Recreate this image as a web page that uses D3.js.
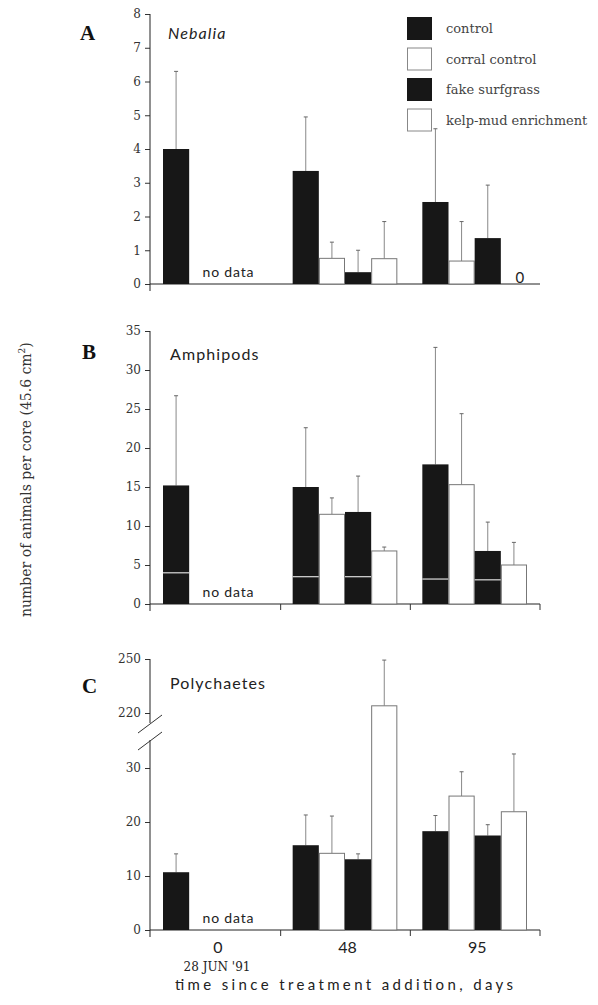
<!DOCTYPE html>
<html>
<head>
<meta charset="utf-8">
<script src="https://cdn.jsdelivr.net/npm/d3@7"></script>
<style>
  body { margin: 0; background: #fff; }
  svg { display: block; }
</style>
</head>
<body>
<svg id="chart" width="598" height="1005"></svg>
<script>
// Data
var days = ["0", "48", "95"];
var treatments = ["control", "corral control", "fake surfgrass", "kelp-mud enrichment"];

// Nebalia: rows = days, cols = treatments (null = no data)
var nebaliaMean = [[4.0, null, null, null], [3.35, 0.76, 0.35, 0.75], [2.43, 0.68, 1.36, 0]];
var nebaliaErr  = [[6.3, null, null, null], [4.95, 1.24, 1.0, 1.85], [4.6, 1.85, 2.93, null]];

// Amphipods
var amphMean = [[15.2, null, null, null], [15.0, 11.5, 11.8, 6.8], [17.9, 15.3, 6.8, 5.0]];
var amphErr  = [[26.7, null, null, null], [22.6, 13.6, 16.4, 7.3], [32.9, 24.4, 10.5, 7.9]];
var amphInner = [[4.0, null, null, null], [3.5, null, 3.5, null], [3.2, null, 3.1, null]];

// Polychaetes
var polyMean = [[10.7, null, null, null], [15.7, 14.2, 13.1, 224], [18.3, 24.8, 17.5, 21.9]];
var polyErr  = [[14.1, null, null, null], [21.3, 21.1, 14.1, 249.4], [21.2, 29.3, 19.5, 32.6]];

var nebaliaTicks = [0, 1, 2, 3, 4, 5, 6, 7, 8];
var amphTicks = [0, 5, 10, 15, 20, 25, 30, 35];
var polyTicks = [0, 10, 20, 30, 220, 250];

var svg = d3.select("#chart");

var x0 = d3.scaleBand().domain(days).range([151, 540]);
var x1 = d3.scaleBand().domain(treatments).range([12, x0.bandwidth() - 13]);

function isDark(t) { return t == "control" || t == "fake surfgrass"; }

// Draw one panel
function drawPanel(y, ticks, means, errs, inner, opts) {
  var g = svg.append("g");
  var zeroY = y(0);

  // y axis
  var axis = d3.axisLeft(y).tickValues(ticks).tickSize(5).tickPadding(4);
  var ag = g.append("g").attr("transform", "translate(150,0)").call(axis);
  ag.select(".domain").remove();
  ag.selectAll(".tick line").attr("stroke", "#333");
  ag.selectAll(".tick text")
    .attr("font-family", "DejaVu Serif").attr("font-size", 12).attr("fill", "#333");

  if (opts.brk) {
    g.append("line").attr("x1", 150).attr("x2", 150)
      .attr("y1", y.range()[3]).attr("y2", opts.brk[0]).attr("stroke", "#222");
    g.append("line").attr("x1", 150).attr("x2", 150)
      .attr("y1", opts.brk[1]).attr("y2", zeroY + 7).attr("stroke", "#222");
    [opts.brk[0] + 2, opts.brk[1] + 2].forEach(function(c) {
      g.append("line").attr("x1", 138).attr("y1", c + 8).attr("x2", 162).attr("y2", c - 10)
        .attr("stroke", "#333").attr("stroke-width", 1);
    });
  } else {
    g.append("line").attr("x1", 150).attr("x2", 150)
      .attr("y1", y.range()[1]).attr("y2", zeroY + 7).attr("stroke", "#222");
  }

  // x baseline
  g.append("line").attr("x1", 150).attr("x2", 540)
    .attr("y1", zeroY).attr("y2", zeroY).attr("stroke", "#222");
  if (opts.xticks) {
    [x0("48"), x0("95"), 540].forEach(function(xx) {
      g.append("line").attr("x1", xx).attr("x2", xx)
        .attr("y1", zeroY).attr("y2", zeroY + 6).attr("stroke", "#333");
    });
  }

  // bars
  days.forEach(function(day, i) {
    treatments.forEach(function(t, j) {
      var v = means[i][j];
      if (v == null) return;
      var bx = x0(day) + x1(t), bw = x1.bandwidth(), cx = bx + bw / 2;
      if (v == 0) {
        g.append("text").attr("x", cx + 6).attr("y", zeroY - 1)
          .attr("text-anchor", "middle").attr("font-family", "Lato").attr("font-size", 15)
          .attr("fill", "#222").text("0");
        return;
      }
      var e = errs[i][j];
      if (e != null) {
        g.append("line").attr("x1", cx).attr("x2", cx).attr("y1", y(v)).attr("y2", y(e))
          .attr("stroke", "#888").attr("stroke-width", 1);
        g.append("line").attr("x1", cx - 2).attr("x2", cx + 2).attr("y1", y(e)).attr("y2", y(e))
          .attr("stroke", "#666").attr("stroke-width", 1);
      }
      if (isDark(t)) {
        g.append("rect").attr("x", bx).attr("y", y(v)).attr("width", bw)
          .attr("height", zeroY - y(v)).attr("fill", "#171717");
      } else {
        g.append("rect").attr("x", bx + 0.5).attr("y", y(v)).attr("width", bw - 1)
          .attr("height", zeroY - y(v)).attr("fill", "#fff")
          .attr("stroke", "#777").attr("stroke-width", 1);
      }
      if (inner && inner[i][j] != null) {
        g.append("line").attr("x1", bx).attr("x2", bx + bw)
          .attr("y1", y(inner[i][j])).attr("y2", y(inner[i][j]))
          .attr("stroke", "#ddd").attr("stroke-width", 1.2);
      }
    });
  });

  // "no data"
  var ndx = x0("0") + x1("fake surfgrass") + x1.bandwidth() / 2;
  g.append("text").attr("x", ndx).attr("y", zeroY - 7).attr("text-anchor", "middle")
    .attr("font-family", "Lato").attr("font-size", 14).attr("letter-spacing", 0.8)
    .attr("fill", "#222").text("no data");

  // panel letter + title
  g.append("text").attr("x", opts.lx).attr("y", opts.ly)
    .attr("font-family", "Liberation Serif").attr("font-weight", "bold")
    .attr("font-size", 21).attr("fill", "#111").text(opts.letter);
  g.append("text").attr("x", opts.tx).attr("y", opts.ty)
    .attr("font-family", "Lato").attr("font-size", 16).attr("letter-spacing", 1.1)
    .attr("font-style", opts.italic ? "italic" : "normal")
    .attr("fill", "#222").text(opts.title);
  return g;
}

var yA = d3.scaleLinear().domain([0, 8]).range([284, 14]);
var yB = d3.scaleLinear().domain([0, 35]).range([604, 331]);
var yC = d3.scaleLinear().domain([0, 35, 210, 250]).range([930, 741, 731, 659]);

drawPanel(yA, nebaliaTicks, nebaliaMean, nebaliaErr, null,
  { letter: "A", lx: 80, ly: 40, title: "Nebalia", tx: 168, ty: 39, italic: true });
drawPanel(yB, amphTicks, amphMean, amphErr, amphInner,
  { letter: "B", lx: 82, ly: 359, title: "Amphipods", tx: 170, ty: 360, xticks: true });
drawPanel(yC, polyTicks, polyMean, polyErr, null,
  { letter: "C", lx: 82, ly: 693, title: "Polychaetes", tx: 170, ty: 689, xticks: true, brk: [723, 740] });

// legend
var legend = svg.append("g").attr("transform", "translate(407,17)");
treatments.forEach(function(t, i) {
  var row = legend.append("g").attr("transform", "translate(0," + (i * 30.5) + ")");
  if (isDark(t)) {
    row.append("rect").attr("width", 25).attr("height", 23).attr("fill", "#171717");
  } else {
    row.append("rect").attr("x", 0.5).attr("y", 0.5).attr("width", 24).attr("height", 22)
      .attr("fill", "#fff").attr("stroke", "#888");
  }
  row.append("text").attr("x", 39).attr("y", 16)
    .attr("font-family", "DejaVu Serif").attr("font-size", 13).attr("fill", "#444").text(t);
});

// x tick labels
svg.append("g").selectAll("text").data(days).join("text")
  .attr("x", function(d) { return x0(d) + x0.bandwidth() / 2 + 2; })
  .attr("y", 953).attr("text-anchor", "middle")
  .attr("font-family", "Lato").attr("font-size", 16).attr("fill", "#222")
  .text(function(d) { return d; });

svg.append("text").attr("x", 217).attr("y", 971).attr("text-anchor", "middle")
  .attr("font-family", "DejaVu Serif").attr("font-size", 12).attr("fill", "#222").text("28 JUN '91");

svg.append("text").attr("x", 175).attr("y", 990)
  .attr("textLength", 338).attr("lengthAdjust", "spacing")
  .attr("font-family", "Lato").attr("font-size", 15).attr("fill", "#222")
  .text("time since treatment addition, days");

// y axis title
var yt = svg.append("text").attr("transform", "translate(31,617) rotate(-90)")
  .attr("font-family", "DejaVu Serif").attr("font-size", 14).attr("fill", "#333");
yt.append("tspan").text("number of animals per core (45.6 cm");
yt.append("tspan").attr("font-size", 9).attr("dy", -6).text("2");
yt.append("tspan").attr("dy", 6).text(")");
</script>
</body>
</html>
